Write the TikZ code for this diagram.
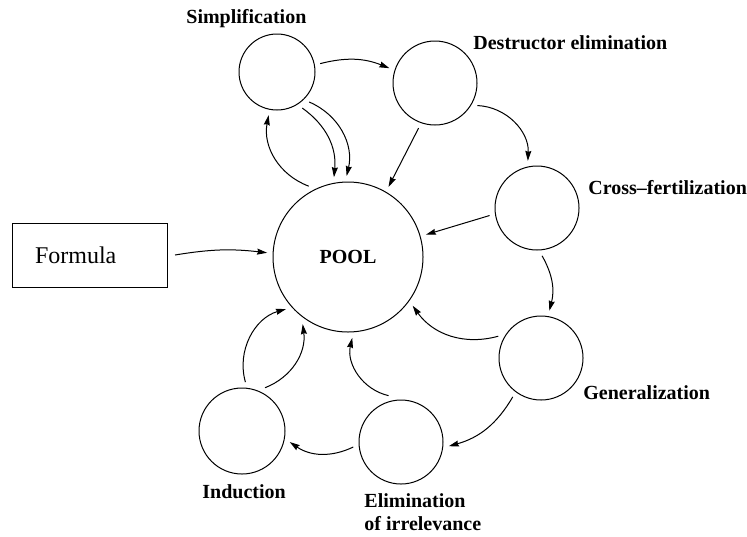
\documentclass[tikz,border=0pt]{standalone}
\usepackage{fontspec}
\setmainfont{Liberation Serif}
\usepackage{tikz}
\usetikzlibrary{positioning,arrows.meta,calc}
\definecolor{ink}{HTML}{000000}
\tikzset{
  % --- nodes
  stage/.style = {circle, draw=ink, line width=0.5pt, inner sep=0pt, outer sep=3pt},
  lbl/.style   = {font=\fontsize{10}{11.5}\selectfont\bfseries, text=ink, inner sep=0pt,
                  anchor=base west},
  % --- edges
  e/.style     = {-{Stealth[length=5pt,width=3pt,inset=0.5pt]}, line width=0.5pt, draw=ink},
}

\begin{document}
\begin{tikzpicture}[x=0.5pt,y=-0.5pt,
  box/.style={draw=ink,line width=0.5pt,minimum height=32pt,inner xsep=11.5pt,
              text width=54.5pt,align=left,outer sep=4pt,font=\fontsize{12}{14}\selectfont},
]
  \useasboundingbox (0,0) rectangle (747,536);
  % stages
  \node[stage, minimum size=75pt, font=\fontsize{10}{12}\selectfont\bfseries] (pool) at (348,257) {POOL};
  \node[stage, minimum size=38pt] (simp)  at (277,72)  {};
  \node[stage, minimum size=42pt] (dest)  at (435,83)  {};
  \node[stage, minimum size=42pt] (cross) at (537,208) {};
  \node[stage, minimum size=42pt] (gen)   at (541,358) {};
  \node[stage, minimum size=42pt] (elim)  at (401,442) {};
  \node[stage, minimum size=43pt] (ind)   at (242,431) {};
  \node[box] (formula) at (89.5,255) {Formula};
  % labels
  \node[lbl] (simplbl)  at (186,23)  {Simplification};
  \node[lbl] (destlbl)  at (473,49)  {Destructor elimination};
  \node[lbl] (crosslbl) at (588,194) {Cross--fertilization};
  \node[lbl] (genlbl)   at (583,399) {Generalization};
  \node[lbl] (indlbl)   at (202,498) {Induction};
  \node[lbl, anchor=north west, align=left] (elimlbl) at (364,493.5) {Elimination\\of irrelevance};
  % flow
  \draw[e] (formula.east) to[bend left=8] (pool.177);
  \draw[e] (simp.11) to[bend left=18] (dest.162);
  \draw[e] (simp.-55) to[bend left=30] (pool.100);
  \draw[e] (simp.-43) to[bend left=40] (pool.91);
  \draw[e] (pool.119) to[bend left=40] (simp.-101);
  \draw[e] (dest.-110) -- (pool.60);
  \draw[e] (dest.-28) to[bend left=45] (cross.101);
  \draw[e] (cross.-171) -- (pool.16);
  \draw[e] (cross.-84) to[bend left=22] (gen.80);
  \draw[e] (gen.153) to[bend left=35] (pool.-37);
  \draw[e] (gen.-126) to[bend left=22] (elim.-5);
  \draw[e] (elim.-174) to[bend left=30] (ind.-13);
  \draw[e] (elim.105) to[bend left=45] (pool.-87);
  \draw[e] (ind.86) to[bend left=45] (pool.-140);
  \draw[e] (ind.62) to[bend right=38] (pool.-124);
\end{tikzpicture}
\end{document}
